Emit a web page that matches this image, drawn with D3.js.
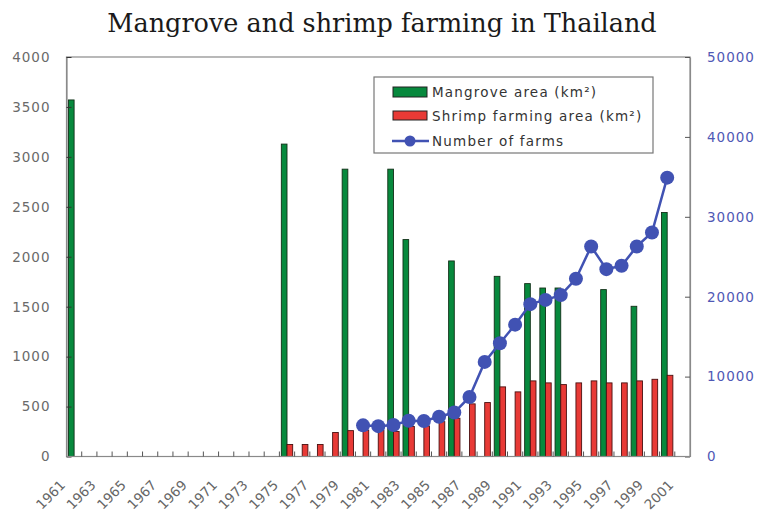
<!DOCTYPE html>
<html><head><meta charset="utf-8">
<script src="https://cdn.jsdelivr.net/npm/d3@7/dist/d3.min.js"></script>
<style>body{margin:0;background:#fff}svg{display:block}</style>
</head><body><svg id="c" width="759" height="519"></svg>
<script>
const years = [1961,1962,1963,1964,1965,1966,1967,1968,1969,1970,1971,1972,1973,1974,1975,1976,1977,1978,1979,1980,1981,1982,1983,1984,1985,1986,1987,1988,1989,1990,1991,1992,1993,1994,1995,1996,1997,1998,1999,2000,2001];
const xLabelYears = [1961,1963,1965,1967,1969,1971,1973,1975,1977,1979,1981,1983,1985,1987,1989,1991,1993,1995,1997,1999,2001];
const mangroveYears = [1961,1975,1979,1982,1983,1986,1989,1991,1992,1993,1996,1998,2000];
const mangroveArea  = [3570,3128,2877,2877,2172,1958,1804,1731,1687,1687,1671,1504,2443];
const shrimpYears = [1975,1976,1977,1978,1979,1980,1981,1982,1983,1984,1985,1986,1987,1988,1989,1990,1991,1992,1993,1994,1995,1996,1997,1998,1999,2000];
const shrimpArea  = [120,120,120,240,259,265,265,250,300,306,349,383,527,540,697,647,757,737,720,737,757,737,737,757,773,813];
const farmYears = [1980,1981,1982,1983,1984,1985,1986,1987,1988,1989,1990,1991,1992,1993,1994,1995,1996,1997,1998,1999,2000];
const farmCount = [3900,3800,3950,4480,4450,4980,5500,7450,11840,14180,16500,19070,19600,20200,22240,26290,23450,23870,26290,28040,34900];
const leftTicks = [0,500,1000,1500,2000,2500,3000,3500,4000];
const rightTicks = [0,10000,20000,30000,40000,50000];
const seriesNames = ["Mangrove area (km²)","Shrimp farming area (km²)","Number of farms"];

const L = 66.5, R = 690, T = 57, B = 456.5;
const svg = d3.select("#c");
const green = "#07893d", red = "#e83a36", blue = "#4152b3";

svg.append("text").attr("x", 382).attr("y", 32).attr("text-anchor","middle")
  .attr("font-family","DejaVu Serif").attr("font-size",25.5).attr("fill","#1a1a1a")
  .text("Mangrove and shrimp farming in Thailand");

const x = d3.scaleBand().domain(years).range([L, R]).padding(0);
const x1 = d3.scaleBand().domain(["m","s"]).range([0, x.bandwidth()]).paddingInner(0).paddingOuter(0.34);
const yL = d3.scaleLinear().domain([0,4000]).range([B, T]);
const yR = d3.scaleLinear().domain([0,50000]).range([B, T]);

const g = svg.append("g");
g.selectAll("rect.m").data(mangroveYears.map((y,i)=>({y, v:mangroveArea[i]}))).join("rect")
  .attr("x", d=>x(d.y)+x1("m")).attr("width", x1.bandwidth())
  .attr("y", d=>yL(d.v)).attr("height", d=>B-yL(d.v))
  .attr("fill", green).attr("stroke","#123018").attr("stroke-width",0.9);
g.selectAll("rect.s").data(shrimpYears.map((y,i)=>({y, v:shrimpArea[i]}))).join("rect")
  .attr("x", d=>x(d.y)+x1("s")).attr("width", x1.bandwidth())
  .attr("y", d=>yL(d.v)).attr("height", d=>B-yL(d.v))
  .attr("fill", red).attr("stroke","#4a1010").attr("stroke-width",0.9);

// frame
svg.append("rect").attr("x",L).attr("y",T).attr("width",R-L).attr("height",B-T)
  .attr("fill","none").attr("stroke","#8a8a8a").attr("stroke-width",1.2);

// left axis
const ax = svg.append("g").attr("transform",`translate(${L},0)`)
  .call(d3.axisLeft(yL).tickValues(leftTicks).tickSizeInner(-5).tickSizeOuter(0).tickPadding(16).tickFormat(d3.format("d")));
ax.select(".domain").attr("stroke","#8a8a8a").attr("stroke-width",1.2);
ax.selectAll(".tick line").attr("stroke","#333");
ax.selectAll("text").attr("font-family","DejaVu Sans").attr("font-size",13.5).attr("fill","#6a6a6a").attr("letter-spacing",1);

// right axis
const ar = svg.append("g").attr("transform",`translate(${R},0)`)
  .call(d3.axisRight(yR).tickValues(rightTicks).tickSizeInner(-5).tickSizeOuter(0).tickPadding(17).tickFormat(d3.format("d")));
ar.select(".domain").attr("stroke","#8a8a8a").attr("stroke-width",1.2);
ar.selectAll(".tick line").attr("stroke","#555");
ar.selectAll("text").attr("font-family","DejaVu Sans").attr("font-size",13.5).attr("fill","#4f58b5").attr("letter-spacing",1);

// bottom axis: ticks at category boundaries
const ab = svg.append("g");
ab.append("line").attr("x1",L).attr("x2",R).attr("y1",B).attr("y2",B).attr("stroke","#8a8a8a").attr("stroke-width",1.2);
ab.selectAll("line.t").data(years.slice(1)).join("line")
  .attr("x1", d=>x(d)).attr("x2", d=>x(d)).attr("y1",B).attr("y2",B-5)
  .attr("stroke","#555");
ab.selectAll("text").data(xLabelYears).join("text")
  .attr("transform", d=>`translate(${x(d)+x.bandwidth()/2-8},${486}) rotate(-45)`)
  .attr("text-anchor","end").attr("font-family","DejaVu Sans").attr("font-size",13.5)
  .attr("fill","#666").text(d=>d);

// line
const pts = farmYears.map((y,i)=>({y, v:farmCount[i]}));
svg.append("path").datum(pts)
  .attr("d", d3.line().x(d=>x(d.y)+x.bandwidth()/2).y(d=>yR(d.v)))
  .attr("fill","none").attr("stroke",blue).attr("stroke-width",2.5);
svg.selectAll("circle.p").data(pts).join("circle")
  .attr("cx", d=>x(d.y)+x.bandwidth()/2).attr("cy", d=>yR(d.v)).attr("r",7).attr("fill",blue);

// legend
const lg = svg.append("g");
lg.append("rect").attr("x",374).attr("y",77).attr("width",279).attr("height",76)
  .attr("fill","#fff").attr("stroke","#777").attr("stroke-width",1.2);
lg.append("rect").attr("x",393).attr("y",87).attr("width",34).attr("height",10).attr("fill",green).attr("stroke","#222");
lg.append("rect").attr("x",393).attr("y",111).attr("width",34).attr("height",9).attr("fill",red).attr("stroke","#222");
lg.append("line").attr("x1",392).attr("x2",429).attr("y1",141).attr("y2",141).attr("stroke",blue).attr("stroke-width",2.5);
lg.append("circle").attr("cx",410).attr("cy",141).attr("r",5.5).attr("fill",blue);
lg.selectAll("text").data(seriesNames).join("text")
  .attr("x",432).attr("y",(d,i)=>92+i*24.5).attr("dy","0.35em")
  .attr("font-family","DejaVu Sans").attr("font-size",13.5).attr("fill","#333").attr("letter-spacing",1.2)
  .text(d=>d);
</script></body></html>
